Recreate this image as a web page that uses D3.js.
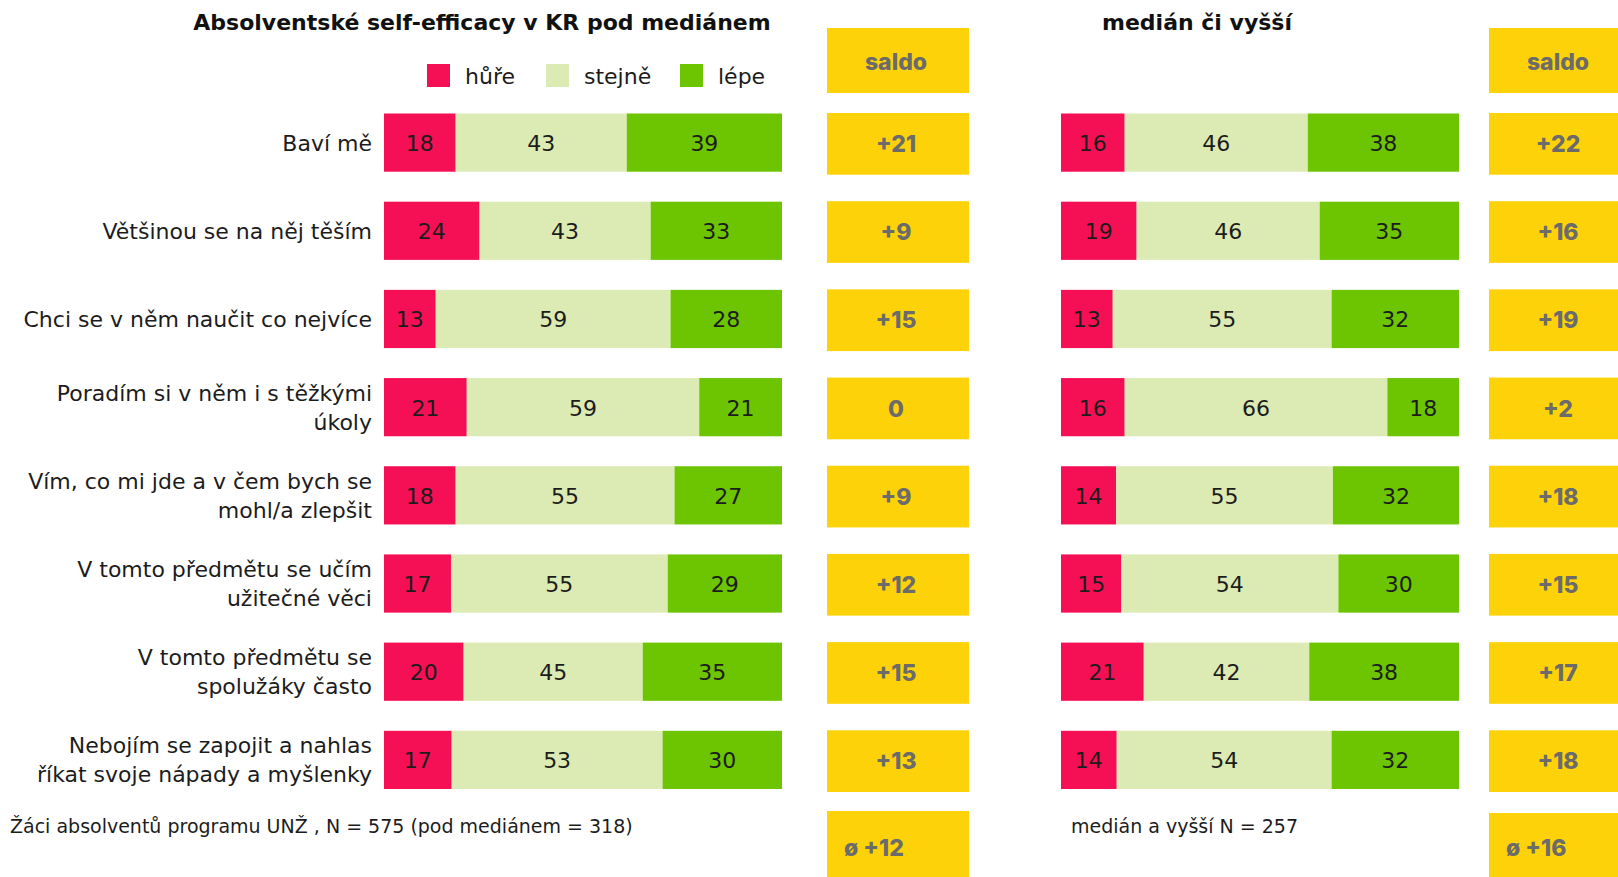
<!DOCTYPE html>
<html>
<head>
<meta charset="utf-8">
<script src="https://cdn.jsdelivr.net/npm/d3@7"></script>
<style>
  body { margin: 0; background: #fff; }
  text { font-family: "DejaVu Sans", Verdana, sans-serif; }
  text.sal { font-family: Inter, Roboto, sans-serif; font-weight: 800; }
</style>
</head>
<body>
<script>
// data
var categories = [
  "Baví mě",
  "Většinou se na něj těším",
  "Chci se v něm naučit co nejvíce",
  "Poradím si v něm i s těžkými|úkoly",
  "Vím, co mi jde a v čem bych se|mohl/a zlepšit",
  "V tomto předmětu se učím|užitečné věci",
  "V tomto předmětu se|spolužáky často",
  "Nebojím se zapojit a nahlas|říkat svoje nápady a myšlenky"
]
var seriesNames = ["hůře", "stejně", "lépe"]
var colors = ["#f50f55", "#dceab3", "#6cc500"]

var pod_hure = [18, 24, 13, 21, 18, 17, 20, 17]
var pod_stejne = [43, 43, 59, 59, 55, 55, 45, 53]
var pod_lepe = [39, 33, 28, 21, 27, 29, 35, 30]
var pod_saldo = ["+21", "+9", "+15", "0", "+9", "+12", "+15", "+13"]
var pod_mean = "ø +12"

var nad_hure = [16, 19, 13, 16, 14, 15, 21, 14]
var nad_stejne = [46, 46, 55, 66, 55, 54, 42, 54]
var nad_lepe = [38, 35, 32, 18, 32, 30, 38, 32]
var nad_saldo = ["+22", "+16", "+19", "+2", "+18", "+15", "+17", "+18"]
var nad_mean = "ø +16"

var W = 1618, H = 877
var yellow = "#fed208", gray = "#6b6b6b"

var svg = d3.select("body").append("svg")
	.attr("width", W)
	.attr("height", H)

var y = d3.scaleBand()
	.domain(d3.range(categories.length))
	.range([113.5, 789])
	.paddingInner(0.34)
	.paddingOuter(0)

function panel(x0, x1, hure, stejne, lepe) {
	var g = svg.append("g")
	var rows = categories.map(function(c, i) {
		return [hure[i], stejne[i], lepe[i]]
	})
	rows.forEach(function(vals, i) {
		var total = d3.sum(vals)
		var x = d3.scaleLinear().domain([0, total]).range([x0, x1])
		var acc = 0
		var segs = vals.map(function(v, k) {
			var s = {v: v, a: acc, b: acc + v, k: k}
			acc += v
			return s
		})
		var row = g.append("g")
		row.selectAll("rect")
			.data(segs)
			.enter()
			.append("rect")
			.attr("x", function(d) { return x(d.a) })
			.attr("y", y(i))
			.attr("width", function(d) { return x(d.b) - x(d.a) })
			.attr("height", y.bandwidth())
			.attr("fill", function(d) { return colors[d.k] })
		row.selectAll("text")
			.data(segs)
			.enter()
			.append("text")
			.attr("x", function(d) { return (x(d.a) + x(d.b)) / 2 })
			.attr("y", y(i) + y.bandwidth() / 2 + 8.5)
			.attr("text-anchor", "middle")
			.attr("font-size", "22px")
			.attr("fill", "#1c1c1c")
			.text(function(d) { return d.v })
	})
}

function saldo(bx, bw, vals, mean, meanY, meanX) {
	var g = svg.append("g")
	g.append("rect").attr("x", bx).attr("y", 28).attr("width", bw).attr("height", 65).attr("fill", yellow)
	g.append("text").attr("class", "sal").attr("x", bx + 69).attr("y", 70).attr("text-anchor", "middle")
		.attr("font-size", "23px").attr("fill", gray).text("saldo")
	g.selectAll("rect.s")
		.data(vals)
		.enter()
		.append("rect")
		.attr("class", "s")
		.attr("x", bx)
		.attr("y", function(d, i) { return y(i) - 0.5 })
		.attr("width", bw)
		.attr("height", y.bandwidth() + 3.5)
		.attr("fill", yellow)
	g.selectAll("text.s")
		.data(vals)
		.enter()
		.append("text")
		.attr("class", "s sal")
		.attr("x", bx + 69)
		.attr("y", function(d, i) { return y(i) + y.bandwidth() / 2 + 9.5 })
		.attr("text-anchor", "middle")
		.attr("font-size", "23px")
		.attr("fill", gray)
		.text(function(d) { return d })
	g.append("rect").attr("x", bx).attr("y", meanY).attr("width", bw).attr("height", H - meanY).attr("fill", yellow)
	g.append("text").attr("class", "sal").attr("x", meanX).attr("y", 856)
		.attr("font-size", "23px").attr("fill", gray).text(mean)
}

panel(384, 782, pod_hure, pod_stejne, pod_lepe)
panel(1061, 1459, nad_hure, nad_stejne, nad_lepe)
saldo(827, 142, pod_saldo, pod_mean, 811, 844)
saldo(1489, 138, nad_saldo, nad_mean, 813, 1506)

// category labels
var labels = svg.append("g")
categories.forEach(function(c, i) {
	var lines = c.split("|")
	var cy = y(i) + y.bandwidth() / 2
	var t = labels.append("text")
		.attr("text-anchor", "end")
		.attr("font-size", "22px")
		.attr("fill", "#1c1c1c")
	lines.forEach(function(l, k) {
		t.append("tspan")
			.attr("x", 372)
			.attr("y", cy + 8 + (k - (lines.length - 1) / 2) * 29)
			.text(l)
	})
})

// titles
svg.append("text").attr("x", 482).attr("y", 30).attr("text-anchor", "middle")
	.attr("font-size", "22px").attr("font-weight", "bold").attr("fill", "#111")
	.text("Absolventské self-efficacy v KR pod mediánem")
svg.append("text").attr("x", 1197).attr("y", 30).attr("text-anchor", "middle")
	.attr("font-size", "22px").attr("font-weight", "bold").attr("fill", "#111")
	.text("medián či vyšší")

// legend
var legX = [427, 546, 680]
var leg = svg.append("g").selectAll("g")
	.data(seriesNames)
	.enter()
	.append("g")
	.attr("transform", function(d, i) { return "translate(" + legX[i] + ",64)" })
leg.append("rect").attr("width", 23).attr("height", 23).attr("fill", function(d, i) { return colors[i] })
leg.append("text").attr("x", 38).attr("y", 20).attr("font-size", "22px").attr("fill", "#1c1c1c").text(function(d) { return d })

// footnotes
svg.append("text").attr("x", 10).attr("y", 833).attr("font-size", "19px").attr("fill", "#1c1c1c")
	.text("Žáci absolventů programu UNŽ , N = 575 (pod mediánem = 318)")
svg.append("text").attr("x", 1071).attr("y", 833).attr("font-size", "19px").attr("fill", "#1c1c1c")
	.text("medián a vyšší N = 257")
</script>
</body>
</html>
